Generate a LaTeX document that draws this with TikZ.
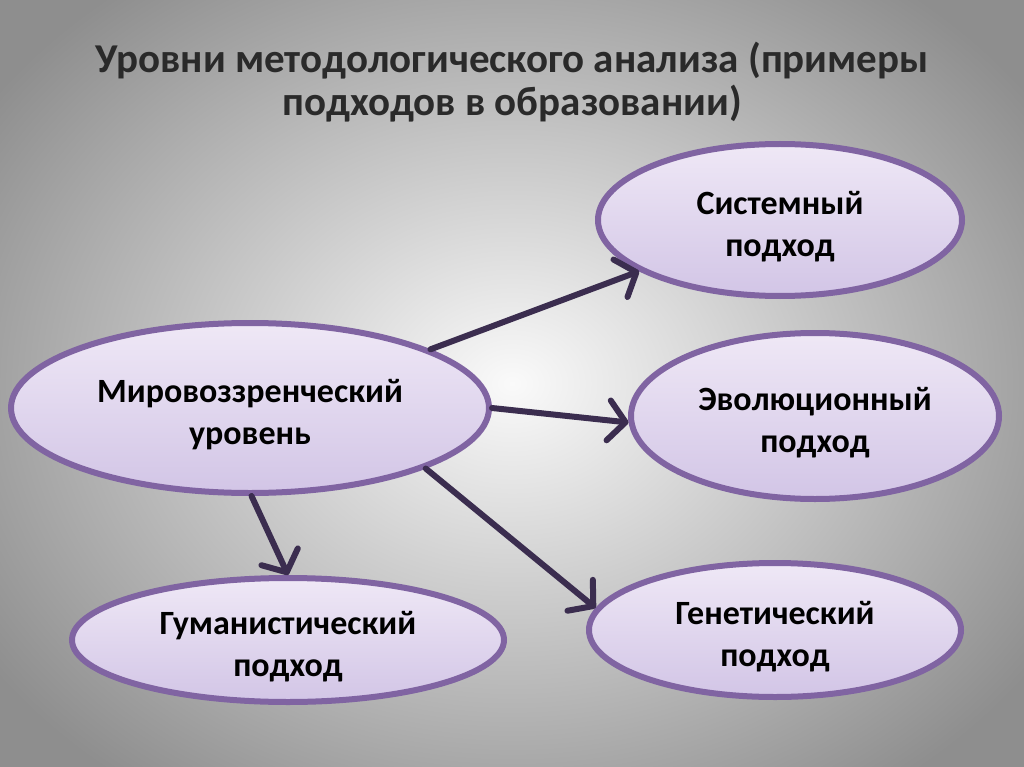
\documentclass[tikz,border=0pt]{standalone}
\usepackage{fontspec}
\setmainfont{Carlito}
\usetikzlibrary{arrows.meta,shapes.geometric}
\definecolor{bgin}{HTML}{FAFAFA}
\definecolor{bgout}{HTML}{8E8E8E}
\definecolor{ellborder}{HTML}{8064A2}
\definecolor{elltop}{HTML}{EFE8F6}
\definecolor{ellbot}{HTML}{D2C5E6}
\definecolor{arrowcol}{HTML}{3B2D4F}
\definecolor{titlecol}{HTML}{2A2A2A}
\newcommand\myTopStrut{\rule{0pt}{36pt}}
\tikzset{
  oval/.style={ellipse, draw=ellborder, line width=6pt, top color=elltop, bottom color=ellbot,
    inner sep=0pt, align=center, font=\fontsize{34}{42}\selectfont\bfseries, text=black},
  link/.style={draw=arrowcol, line width=6pt, line cap=round,
    -{Straight Barb[length=17pt,width=40pt,round]}},
  titletext/.style={align=center, font=\fontsize{41}{43}\selectfont\bfseries, text=titlecol}
}
\begin{document}
\begin{tikzpicture}[x=1pt,y=-1pt]
\useasboundingbox (0,0) rectangle (1024,767);
\shade[inner color=bgin, outer color=bgout] (-120,-120) rectangle (1144,887);
\node[titletext] (title) at (512,82) {Уровни методологического анализа (примеры\\подходов в образовании)};
\node[oval, minimum width=364pt, minimum height=152pt] (sys) at (780,220) {\myTopStrut Системный\\подход};
\node[oval, minimum width=478pt, minimum height=170pt] (mir) at (250,408) {\myTopStrut Мировоззренческий\\уровень};
\node[oval, minimum width=368pt, minimum height=166pt] (evo) at (815,416) {\myTopStrut Эволюционный\\подход};
\node[oval, minimum width=432pt, minimum height=124pt] (gum) at (288,640) {\myTopStrut Гуманистический\\подход};
\node[oval, minimum width=372pt, minimum height=134pt] (gen) at (775,630) {\myTopStrut Генетический\\подход};
\draw[link] (mir.18) -- (sys.200);
\draw[link] (mir.0) -- (evo.182);
\draw[link] (mir.-19) -- (gen.173);
\draw[link] (mir.-89) -- (gum.north);
\end{tikzpicture}
\end{document}
